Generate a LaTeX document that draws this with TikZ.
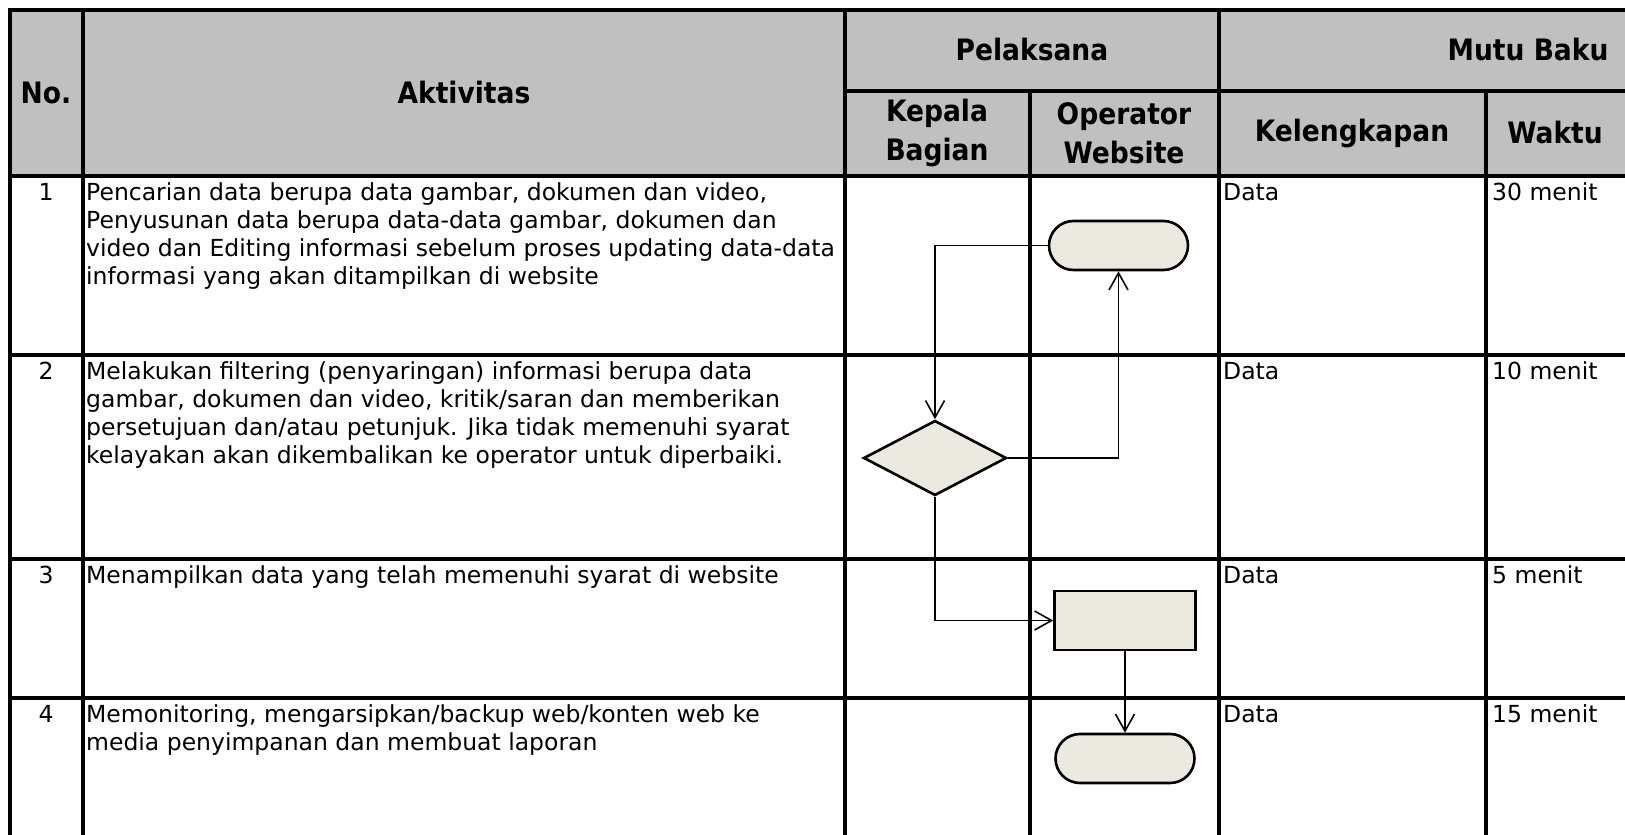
\documentclass[tikz,border=0pt]{standalone}
\usepackage{fontspec}
\setmainfont{DejaVu Sans}
\newfontfamily\hdrfont{DejaVu Sans Condensed}
\usetikzlibrary{arrows.meta,shapes.geometric}

\definecolor{headgray}{RGB}{192,192,192}
\definecolor{shapefill}{RGB}{236,234,224}

\begin{document}
\begin{tikzpicture}[x=1pt,y=-1pt,
    hdr/.style={font=\hdrfont\bfseries\fontsize{29.5}{39}\selectfont,align=center,inner sep=0},
    cell/.style={font=\fontsize{23.5}{28}\selectfont,align=left,anchor=north west,inner sep=0},
    term/.style={draw,line width=2.6pt,fill=shapefill,rounded corners=24.5pt,
        minimum width=139pt,minimum height=49pt,inner sep=0},
    proc/.style={draw,line width=2.6pt,fill=shapefill,minimum width=141pt,
        minimum height=59pt,inner sep=0},
    dec/.style={draw,diamond,aspect=1.9,line width=2.6pt,fill=shapefill,
        minimum width=143pt,minimum height=75pt,inner sep=0},
    flow/.style={line width=1.6pt,-{Straight Barb[length=17pt,width=19pt]}},
    grid/.style={line width=3.4pt}]

\useasboundingbox (0,0) rectangle (1625,835);
\clip (0,0) rectangle (1625,835);

% header
\fill[headgray] (10,10) rectangle (1640,176);

\draw[grid] (1640,10) -- (10,10) -- (10,840);
\foreach \y in {176,355,559,698}
{
    \draw[grid] (10,\y) -- (1640,\y);
}
\draw[grid] (845,91) -- (1640,91);
\foreach \x in {83,845,1219}
{
    \draw[grid] (\x,10) -- (\x,840);
}
\foreach \x in {1030,1486}
{
    \draw[grid] (\x,91) -- (\x,840);
}

\node[hdr] (hno) at (46,93) {No.};
\node[hdr] (hakt) at (464,93) {Aktivitas};
\node[hdr] (hpel) at (1032,50) {Pelaksana};
\node[hdr] (hmutu) at (1528,50) {Mutu Baku};
\node[hdr] (hkep) at (937,133) {Kepala\\Bagian};
\node[hdr] (hop) at (1124,133) {Operator\\Website};
\node[hdr] (hkel) at (1352,133) {Kelengkapan};
\node[hdr] (hwak) at (1555,133) {Waktu};

% rows
\foreach \n/\top/\t in {1/176/30 menit,2/355/10 menit,3/559/5 menit,4/698/15 menit}
{
    \node[cell,anchor=north] (no\n) at (46,\top+4.5) {\strut\n};
    \node[cell] (data\n) at (1223,\top+4.5) {\strut Data};
    \node[cell] (time\n) at (1492,\top+4.5) {\strut\t};
}

\node[cell] (akt1) at (86,180.5) {\strut Pencarian data berupa data gambar, dokumen dan video,\\
Penyusunan data berupa data-data gambar, dokumen dan\\
video dan Editing informasi sebelum proses updating data-data\\
informasi yang akan ditampilkan di website};
\node[cell] (akt2) at (86,359.5) {\strut Melakukan filtering (penyaringan) informasi berupa data\\
gambar, dokumen dan video, kritik/saran dan memberikan\\
persetujuan dan/atau petunjuk. Jika tidak memenuhi syarat\\
kelayakan akan dikembalikan ke operator untuk diperbaiki.};
\node[cell] (akt3) at (86,563.5) {\strut Menampilkan data yang telah memenuhi syarat di website};
\node[cell] (akt4) at (86,702.5) {\strut Memonitoring, mengarsipkan/backup web/konten web ke\\
media penyimpanan dan membuat laporan};

% flow
\node[term] (start) at (1118.5,245.5) {};
\node[dec] (check) at (935,458) {};
\node[proc] (post) at (1125,620.5) {};
\node[term] (finish) at (1125,758.5) {};

\draw[flow] (start.west) -| (check.north);
\draw[flow] (check.east) -| (start.south);
\draw[flow] (check.south) |- (post.west);
\draw[flow] (post.south) -- (finish.north);

\end{tikzpicture}
\end{document}
